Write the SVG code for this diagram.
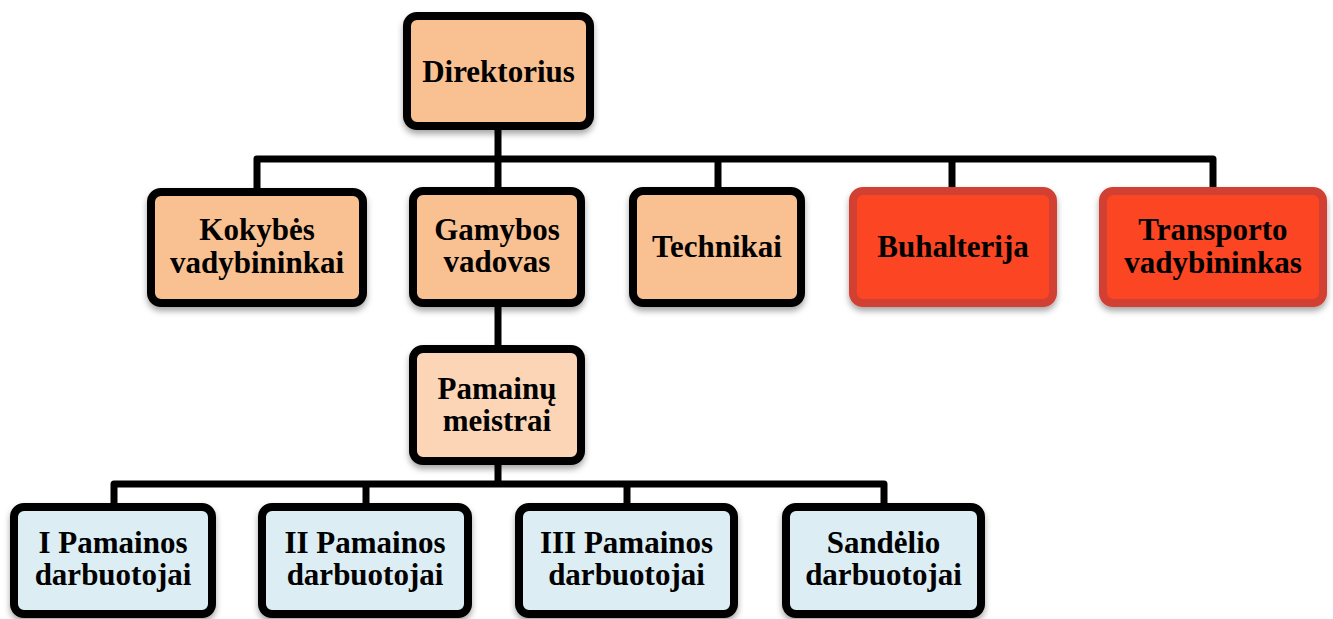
<svg xmlns="http://www.w3.org/2000/svg" width="1333" height="619" viewBox="0 0 1333 619">
<defs>
<filter id="sh" x="-20%" y="-20%" width="140%" height="150%">
<feDropShadow dx="0" dy="4" stdDeviation="3" flood-color="#000" flood-opacity="0.35"/>
</filter>
<style>
.box{stroke:#000;stroke-width:8;filter:url(#sh)}
.peach{fill:#F9C191}
.light{fill:#FBD5B5}
.red{fill:#FC4521;stroke:#D13F31}
.blue{fill:#DCEEF4}
.t{font-family:"Liberation Serif","Times New Roman",serif;font-weight:bold;font-size:31px;fill:#000;text-anchor:middle}
.c{fill:none;stroke:#000;stroke-width:7;stroke-linejoin:round}
</style>
</defs>
<rect width="1333" height="619" fill="#fff"/>
<g id="connectors">
<path class="c" d="M257,188 V159 H1213 V188"/>
<path class="c" d="M498,130 V188"/>
<path class="c" d="M718,159 V188"/>
<path class="c" d="M952,159 V188"/>
<path class="c" d="M498,307 V345"/>
<path class="c" d="M498,465 V484"/>
<path class="c" d="M114,503 V484 H884 V503"/>
<path class="c" d="M366,484 V503"/>
<path class="c" d="M627,484 V503"/>
</g>
<g id="direktorius">
<rect class="box peach" x="407" y="16" width="183" height="110" rx="10"/>
<text class="t" x="498.5" y="82">Direktorius</text>
</g>
<g id="kokybes">
<rect class="box peach" x="151" y="192" width="212" height="111" rx="10"/>
<text class="t" x="257" y="240">Kokybės</text>
<text class="t" x="257" y="273">vadybininkai</text>
</g>
<g id="gamybos">
<rect class="box peach" x="413" y="191" width="168" height="112" rx="10"/>
<text class="t" x="497" y="240">Gamybos</text>
<text class="t" x="497" y="272">vadovas</text>
</g>
<g id="technikai">
<rect class="box peach" x="633" y="191" width="168" height="112" rx="10"/>
<text class="t" x="717" y="257">Technikai</text>
</g>
<g id="buhalterija">
<rect class="box red" x="853" y="191" width="200" height="112" rx="10"/>
<text class="t" x="953" y="257">Buhalterija</text>
</g>
<g id="transporto">
<rect class="box red" x="1103" y="191" width="220" height="112" rx="10"/>
<text class="t" x="1213" y="240">Transporto</text>
<text class="t" x="1213" y="273">vadybininkas</text>
</g>
<g id="pamainu">
<rect class="box light" x="413" y="349" width="168" height="112" rx="10"/>
<text class="t" x="497" y="399">Pamainų</text>
<text class="t" x="497" y="431">meistrai</text>
</g>
<g id="pamaina1">
<rect class="box blue" x="14" y="507" width="198" height="107" rx="10"/>
<text class="t" x="113" y="553">I Pamainos</text>
<text class="t" x="113" y="585">darbuotojai</text>
</g>
<g id="pamaina2">
<rect class="box blue" x="262" y="507" width="206" height="107" rx="10"/>
<text class="t" x="365" y="553">II Pamainos</text>
<text class="t" x="365" y="585">darbuotojai</text>
</g>
<g id="pamaina3">
<rect class="box blue" x="519" y="507" width="215" height="107" rx="10"/>
<text class="t" x="626.5" y="553">III Pamainos</text>
<text class="t" x="626.5" y="585">darbuotojai</text>
</g>
<g id="sandelio">
<rect class="box blue" x="786" y="507" width="195" height="107" rx="10"/>
<text class="t" x="883.5" y="553">Sandėlio</text>
<text class="t" x="883.5" y="585">darbuotojai</text>
</g>
</svg>
